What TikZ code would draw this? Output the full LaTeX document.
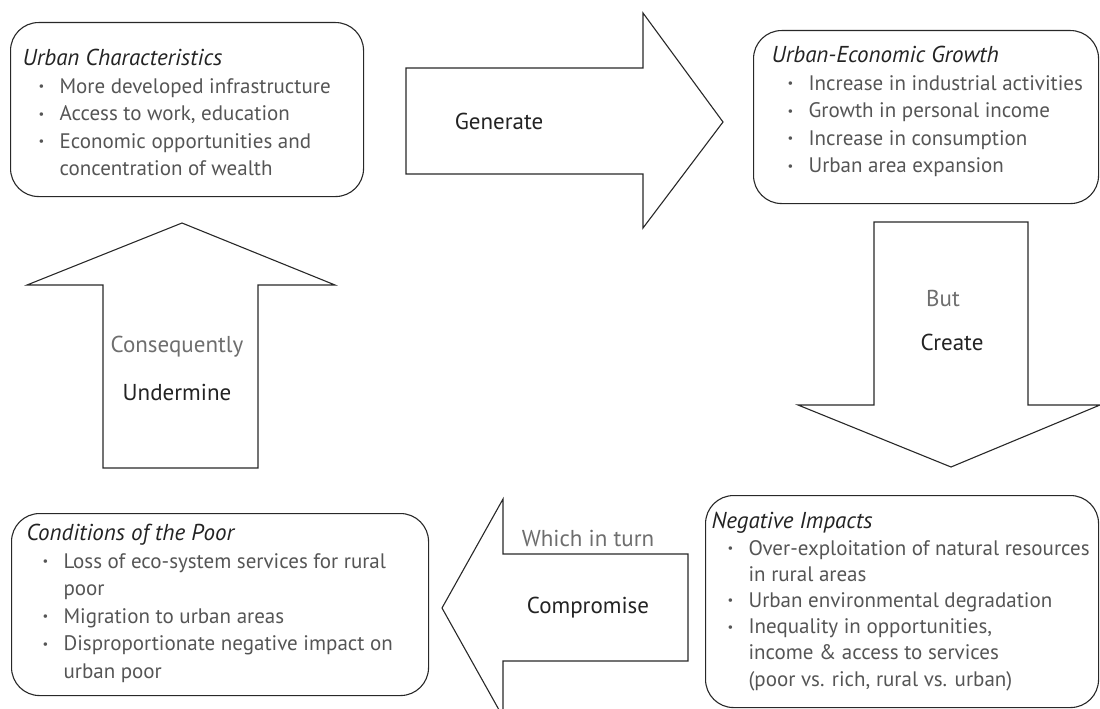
\documentclass[tikz,border=0pt]{standalone}
\usepackage{fontspec}
\setmainfont{PT Sans}
\usepackage{xcolor}

\definecolor{inkline}{RGB}{40,40,40}
\definecolor{inktitle}{RGB}{35,35,35}
\definecolor{inkbody}{RGB}{85,85,85}
\definecolor{inklight}{RGB}{110,110,110}

\newcommand{\bul}{\makebox[37pt][l]{\hspace{16pt}\raisebox{0.12em}{\scalebox{0.6}{\textbullet}}}}
\newcommand{\nob}{\hspace*{37pt}}
\newcommand{\boxtitle}[1]{{\fontsize{23}{27.5}\selectfont\textcolor{inktitle}{\textit{#1}}}}

\begin{document}
\begin{tikzpicture}[
    x=1pt, y=-1pt,
    line width=1.1pt,
    box/.style={draw=inkline, rounded corners=28pt, anchor=north west, inner sep=0pt},
    blockarrow/.style={draw=inkline, line join=miter, fill=white},
    txt/.style={anchor=north west, inner sep=0pt, align=left, text=inkbody,
                font=\fontsize{21}{27.5}\selectfont},
    verb/.style={text=inktitle, font=\fontsize{23}{27}\selectfont},
    hint/.style={text=inklight, font=\fontsize{23}{27}\selectfont}
]
    \useasboundingbox (0,0) rectangle (1100,709);

    % Boxes
    \node[box, minimum width=353pt, minimum height=174pt] (urban)  at (10,22)  {};
    \node[box, minimum width=345pt, minimum height=173pt] (growth) at (753,30)  {};
    \node[box, minimum width=417pt, minimum height=182pt] (poor)   at (11,513)  {};
    \node[box, minimum width=393pt, minimum height=212pt] (impact) at (705,495) {};

    % Box texts
    \node[txt] (urbantxt) at (22,49) {\boxtitle{Urban Characteristics}\\
        \bul More developed infrastructure\\
        \bul Access to work, education\\
        \bul Economic opportunities and\\
        \nob concentration of wealth};
    \node[txt] (growthtxt) at (771,46) {\boxtitle{Urban-Economic Growth}\\
        \bul Increase in industrial activities\\
        \bul Growth in personal income\\
        \bul Increase in consumption\\
        \bul Urban area expansion};
    \node[txt] (poortxt) at (26,524) {\boxtitle{Conditions of the Poor}\\
        \bul Loss of eco-system services for rural\\
        \nob poor\\
        \bul Migration to urban areas\\
        \bul Disproportionate negative impact on\\
        \nob urban poor};
    \node[txt, font=\fontsize{21}{26.2}\selectfont] (impacttxt) at (711,512) {\boxtitle{Negative Impacts}\\
        \bul Over-exploitation of natural resources\\
        \nob in rural areas\\
        \bul Urban environmental degradation\\
        \bul Inequality in opportunities,\\
        \nob income \& access to services\\
        \nob (poor vs. rich, rural vs. urban)};

    % Block arrows
    \draw[blockarrow] (406,68) -- (643,68) -- (643,13) -- (723,122)
        -- (643,228) -- (643,174) -- (406,174) -- cycle;
    \draw[blockarrow] (874,222) -- (1028,222) -- (1028,405) -- (1100,405)
        -- (951,467) -- (798,405) -- (874,405) -- cycle;
    \draw[blockarrow] (688,554) -- (503,554) -- (503,499) -- (442,608)
        -- (503,717) -- (503,661) -- (688,661) -- cycle;
    \draw[blockarrow] (103,468) -- (103,285) -- (27,285) -- (182,223)
        -- (335,285) -- (258,285) -- (258,468) -- cycle;

    % Arrow labels
    \node[verb] (generate)   at (499,121) {Generate};
    \node[hint] (but)        at (943,298) {But};
    \node[verb] (create)     at (952,342) {Create};
    \node[hint] (inturn)     at (588,538) {Which in turn};
    \node[verb] (compromise) at (588,608) {Compromise};
    \node[hint] (consequent) at (177,347) {Consequently};
    \node[verb] (undermine)  at (177,392) {Undermine};

\end{tikzpicture}
\end{document}
